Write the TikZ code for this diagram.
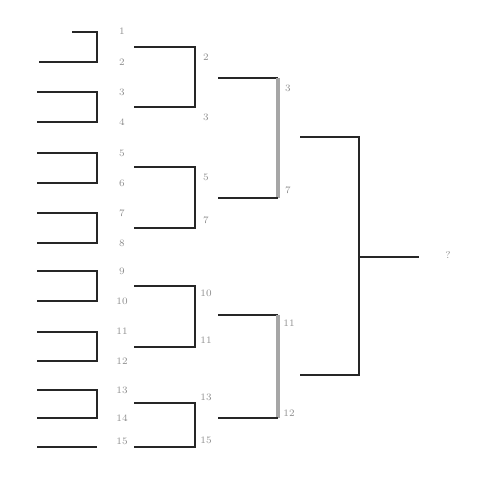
\documentclass[tikz,border=0pt]{standalone}
\begin{document}
\begin{tikzpicture}[
  x=0.025cm, y=-0.025cm,
  wire/.style={black!85, line width=1.1pt},
  worn/.style={black!35, line width=2.2pt},
  lbl/.style={black!45, font=\scriptsize, inner sep=1pt}
]
  \useasboundingbox (0,0) rectangle (478,479);

  % ==========================================
  % 1. PRIMERA RONDA
  % ==========================================
  \coordinate (a1) at (72,32);   \coordinate (a2) at (39,62);   \coordinate (j1) at (97,47);
  \coordinate (a3) at (37,92);   \coordinate (a4) at (37,122);  \coordinate (j2) at (97,107);
  \coordinate (a5) at (37,153);  \coordinate (a6) at (37,183);  \coordinate (j3) at (97,168);
  \coordinate (a7) at (37,213);  \coordinate (a8) at (37,243);  \coordinate (j4) at (97,228);
  \coordinate (a9) at (37,271);  \coordinate (a10) at (37,301); \coordinate (j5) at (97,286);
  \coordinate (a11) at (37,332); \coordinate (a12) at (37,361); \coordinate (j6) at (97,346);
  \coordinate (a13) at (37,390); \coordinate (a14) at (37,418); \coordinate (j7) at (97,404);
  \coordinate (a15) at (37,447); \coordinate (e15) at (97,447);

  \draw[wire] (a1) -| (j1) |- (a2);
  \draw[wire] (a3) -| (j2) |- (a4);
  \draw[wire] (a5) -| (j3) |- (a6);
  \draw[wire] (a7) -| (j4) |- (a8);
  \draw[wire] (a9) -| (j5) |- (a10);
  \draw[wire] (a11) -| (j6) |- (a12);
  \draw[wire] (a13) -| (j7) |- (a14);
  \draw[wire] (a15) -- (e15);

  \node[lbl] (n1) at (122,31) {1};
  \node[lbl] (n2) at (122,62) {2};
  \node[lbl] (n3) at (122,92) {3};
  \node[lbl] (n4) at (122,122) {4};
  \node[lbl] (n5) at (122,153) {5};
  \node[lbl] (n6) at (122,183) {6};
  \node[lbl] (n7) at (122,213) {7};
  \node[lbl] (n8) at (122,243) {8};
  \node[lbl] (n9) at (122,271) {9};
  \node[lbl] (n10) at (122,301) {10};
  \node[lbl] (n11) at (122,331) {11};
  \node[lbl] (n12) at (122,361) {12};
  \node[lbl] (n13) at (122,390) {13};
  \node[lbl] (n14) at (122,418) {14};
  \node[lbl] (n15) at (122,441) {15};

  % ==========================================
  % 2. SEGUNDA RONDA
  % ==========================================
  \coordinate (b1) at (134,47);  \coordinate (b2) at (134,107); \coordinate (k1) at (195,77);
  \coordinate (b3) at (134,167); \coordinate (b4) at (134,228); \coordinate (k2) at (195,197);
  \coordinate (b5) at (134,286); \coordinate (b6) at (134,347); \coordinate (k3) at (195,316);
  \coordinate (b7) at (134,403); \coordinate (b8) at (134,447); \coordinate (k4) at (195,425);

  \draw[wire] (b1) -| (k1) |- (b2);
  \draw[wire] (b3) -| (k2) |- (b4);
  \draw[wire] (b5) -| (k3) |- (b6);
  \draw[wire] (b7) -| (k4) |- (b8);

  \node[lbl] (m2) at (206,57) {2};
  \node[lbl] (m3) at (206,117) {3};
  \node[lbl] (m5) at (206,177) {5};
  \node[lbl] (m7) at (206,220) {7};
  \node[lbl] (m10) at (206,293) {10};
  \node[lbl] (m11) at (206,340) {11};
  \node[lbl] (m13) at (206,397) {13};
  \node[lbl] (m15) at (206,440) {15};

  % ==========================================
  % 3. SEMIFINALES
  % ==========================================
  \coordinate (c1) at (218,78);  \coordinate (c2) at (218,198); \coordinate (l1) at (278,138);
  \coordinate (c3) at (218,315); \coordinate (c4) at (218,418); \coordinate (l2) at (278,366);

  \draw[wire] (c1) -- (c1 -| l1);
  \draw[worn] (c1 -| l1) -- (c2 -| l1);
  \draw[wire] (c2 -| l1) -- (c2);
  \draw[wire] (c3) -- (c3 -| l2);
  \draw[worn] (c3 -| l2) -- (c4 -| l2);
  \draw[wire] (c4 -| l2) -- (c4);

  \node[lbl] (s3) at (288,88) {3};
  \node[lbl] (s7) at (288,190) {7};
  \node[lbl] (s11) at (289,323) {11};
  \node[lbl] (s12) at (289,413) {12};

  % ==========================================
  % 4. FINAL
  % ==========================================
  \coordinate (d1) at (300,137); \coordinate (d2) at (300,375); \coordinate (f) at (359,257);
  \coordinate (w) at (419,257);

  \draw[wire] (d1) -| (f) |- (d2);
  \draw[wire] (f) -- (w);

  \node[lbl] (champ) at (448,255) {?};

\end{tikzpicture}
\end{document}
